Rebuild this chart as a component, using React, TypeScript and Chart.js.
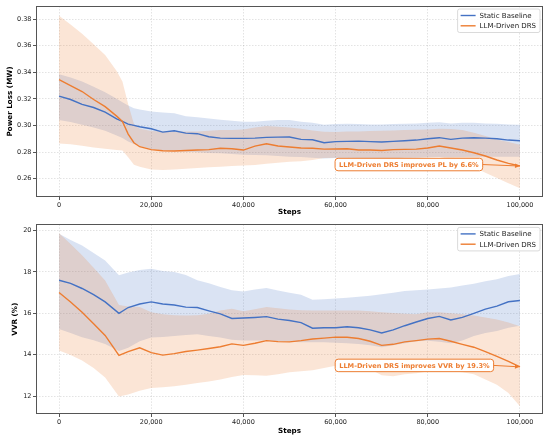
import React, { useEffect, useRef } from "react";
import { Chart, registerables } from "chart.js";

Chart.register(...registerables);

// ---------- data ----------
const BLUE = "#4472C4";
const ORANGE = "#ED7D31";
const BLUE_FILL = "rgba(68,114,196,0.2)";
const ORANGE_FILL = "rgba(237,125,49,0.2)";

const X_TICKS = [0, 20000, 40000, 60000, 80000, 100000];

// Power loss panel
const PL_STEPS = [0, 2500, 5000, 7500, 10000, 12500, 13750, 15000, 16250, 17500, 20000, 22500, 25000, 27500, 30000, 32500, 35000, 37500, 40000, 42500, 45000, 47500, 50000, 52500, 55000, 57500, 60000, 62500, 65000, 67500, 70000, 72500, 75000, 77500, 80000, 82500, 85000, 87500, 90000, 92500, 95000, 97500, 100000];
const PL_STATIC_MEAN = [0.3221, 0.3195, 0.3158, 0.3135, 0.31, 0.305, 0.303, 0.301, 0.3, 0.299, 0.2975, 0.295, 0.296, 0.2942, 0.2938, 0.2915, 0.2905, 0.2903, 0.2903, 0.2905, 0.291, 0.2912, 0.2913, 0.2895, 0.2892, 0.287, 0.2878, 0.288, 0.2882, 0.2878, 0.2875, 0.288, 0.2885, 0.289, 0.29, 0.2908, 0.2895, 0.2905, 0.2908, 0.2905, 0.29, 0.289, 0.2885];
const PL_STATIC_UPPER = [0.3384, 0.336, 0.333, 0.329, 0.325, 0.32, 0.3175, 0.315, 0.313, 0.312, 0.3105, 0.3098, 0.3092, 0.307, 0.3062, 0.3052, 0.3042, 0.3035, 0.3028, 0.3028, 0.3035, 0.304, 0.304, 0.3028, 0.302, 0.3005, 0.301, 0.3012, 0.301, 0.3008, 0.3008, 0.301, 0.3012, 0.3015, 0.302, 0.3024, 0.3015, 0.302, 0.302, 0.3015, 0.3012, 0.3008, 0.3005];
const PL_STATIC_LOWER = [0.304, 0.3025, 0.3005, 0.2985, 0.296, 0.2925, 0.2905, 0.288, 0.286, 0.2845, 0.2822, 0.2812, 0.2808, 0.2803, 0.2798, 0.2793, 0.279, 0.2785, 0.278, 0.2777, 0.2775, 0.277, 0.2765, 0.2762, 0.2758, 0.2752, 0.2755, 0.2756, 0.2755, 0.2754, 0.2752, 0.2754, 0.2757, 0.2758, 0.276, 0.2762, 0.276, 0.2762, 0.2764, 0.2765, 0.2765, 0.2765, 0.2765];
const PL_LLM_MEAN = [0.3344, 0.33, 0.3255, 0.3195, 0.3141, 0.307, 0.303, 0.2935, 0.287, 0.284, 0.2818, 0.281, 0.2808, 0.2812, 0.2815, 0.2818, 0.2828, 0.2825, 0.2815, 0.2845, 0.2862, 0.2845, 0.2838, 0.283, 0.2828, 0.2822, 0.2823, 0.2825, 0.2815, 0.2815, 0.2812, 0.2818, 0.282, 0.2822, 0.283, 0.2845, 0.283, 0.2815, 0.2795, 0.277, 0.274, 0.2715, 0.2695];
const PL_LLM_UPPER = [0.3825, 0.3758, 0.369, 0.361, 0.353, 0.341, 0.333, 0.316, 0.301, 0.2975, 0.2958, 0.2955, 0.2953, 0.2955, 0.2955, 0.296, 0.2965, 0.2965, 0.297, 0.2985, 0.2995, 0.299, 0.2985, 0.2975, 0.2962, 0.2952, 0.295, 0.2955, 0.2955, 0.2958, 0.296, 0.2962, 0.2965, 0.2968, 0.297, 0.2975, 0.2973, 0.2965, 0.2945, 0.292, 0.2895, 0.2875, 0.2855];
const PL_LLM_LOWER = [0.2865, 0.2858, 0.2848, 0.2835, 0.2825, 0.2815, 0.2812, 0.276, 0.2705, 0.269, 0.2668, 0.2665, 0.2668, 0.2675, 0.268, 0.2685, 0.269, 0.2695, 0.2698, 0.2702, 0.2712, 0.272, 0.2727, 0.273, 0.274, 0.2755, 0.2758, 0.2758, 0.2755, 0.2756, 0.2753, 0.2756, 0.2758, 0.2759, 0.2761, 0.2763, 0.2745, 0.272, 0.2685, 0.2645, 0.2605, 0.2565, 0.2527];
const PL_Y_TICKS = [0.26, 0.28, 0.3, 0.32, 0.34, 0.36, 0.38];
const PL_NOTE_TEXT = "LLM-Driven DRS improves PL by 6.6%";
const PL_NOTE_AT = [75900, 0.2706];

// VVR panel
const VVR_STEPS = [0, 2500, 5000, 7500, 10000, 13000, 15000, 17500, 20000, 22500, 25000, 27500, 30000, 32500, 35000, 37500, 40000, 42500, 45000, 47500, 50000, 52500, 55000, 57500, 60000, 62500, 65000, 67500, 70000, 72500, 75000, 77500, 80000, 82500, 85000, 87500, 90000, 92500, 95000, 97500, 100000];
const VVR_STATIC_MEAN = [17.6, 17.45, 17.2, 16.9, 16.55, 16.0, 16.28, 16.45, 16.55, 16.45, 16.4, 16.3, 16.28, 16.12, 15.97, 15.75, 15.77, 15.8, 15.84, 15.72, 15.65, 15.55, 15.28, 15.3, 15.3, 15.35, 15.3, 15.2, 15.05, 15.2, 15.4, 15.58, 15.75, 15.85, 15.68, 15.8, 16.0, 16.2, 16.35, 16.56, 16.62];
const VVR_STATIC_UPPER = [19.85, 19.55, 19.28, 18.92, 18.55, 17.84, 17.97, 18.1, 18.15, 18.05, 18.0, 17.85, 17.6, 17.45, 17.27, 17.12, 17.05, 17.15, 17.22, 17.1, 17.0, 16.9, 16.65, 16.68, 16.72, 16.75, 16.8, 16.85, 16.92, 17.0, 17.08, 17.12, 17.15, 17.2, 17.25, 17.35, 17.43, 17.55, 17.65, 17.8, 17.9];
const VVR_STATIC_LOWER = [15.24, 15.05, 14.84, 14.7, 14.52, 14.18, 14.34, 14.65, 14.83, 14.85, 14.9, 14.95, 14.99, 14.9, 14.83, 14.72, 14.68, 14.68, 14.68, 14.65, 14.62, 14.6, 14.6, 14.6, 14.58, 14.55, 14.52, 14.45, 14.36, 14.45, 14.55, 14.65, 14.67, 14.62, 14.55, 14.68, 14.9, 15.05, 15.15, 15.3, 15.4];
const VVR_LLM_MEAN = [17.01, 16.55, 16.05, 15.5, 14.93, 13.97, 14.15, 14.33, 14.1, 13.98, 14.05, 14.15, 14.22, 14.3, 14.38, 14.52, 14.45, 14.55, 14.68, 14.63, 14.62, 14.68, 14.76, 14.8, 14.85, 14.84, 14.78, 14.65, 14.45, 14.5, 14.62, 14.68, 14.75, 14.78, 14.65, 14.5, 14.36, 14.15, 13.92, 13.68, 13.41];
const VVR_LLM_UPPER = [19.87, 19.35, 18.81, 18.2, 17.59, 16.4, 16.33, 16.3, 16.05, 15.95, 15.9, 15.89, 15.9, 15.98, 16.13, 16.22, 16.1, 16.2, 16.3, 16.25, 16.18, 16.15, 16.13, 16.13, 16.13, 16.13, 16.13, 16.1, 16.05, 16.02, 15.98, 15.95, 16.05, 16.05, 16.0, 15.95, 15.89, 15.8, 15.7, 15.56, 15.37];
const VVR_LLM_LOWER = [14.2, 13.98, 13.72, 13.35, 12.9, 11.98, 12.07, 12.25, 12.39, 12.42, 12.47, 12.55, 12.63, 12.7, 12.8, 12.92, 13.02, 13.0, 12.98, 13.05, 13.15, 13.2, 13.25, 13.35, 13.46, 13.46, 13.45, 13.3, 13.0, 12.95, 13.05, 13.1, 13.18, 13.2, 13.2, 13.15, 13.05, 12.8, 12.55, 12.15, 11.5];
const VVR_Y_TICKS = [12, 14, 16, 18, 20];
const VVR_NOTE_TEXT = "LLM-Driven DRS improves VVR by 19.3%";
const VVR_NOTE_AT = [77100, 13.48];

const SERIES_LABELS = ["Static Baseline", "LLM-Driven DRS"];

// ---------- helpers ----------
const FONT = '"DejaVu Sans", "Liberation Sans", sans-serif';

function roundRect(ctx: CanvasRenderingContext2D, x: number, y: number, w: number, h: number, r: number) {
  ctx.beginPath();
  ctx.moveTo(x + r, y);
  ctx.lineTo(x + w - r, y);
  ctx.quadraticCurveTo(x + w, y, x + w, y + r);
  ctx.lineTo(x + w, y + h - r);
  ctx.quadraticCurveTo(x + w, y + h, x + w - r, y + h);
  ctx.lineTo(x + r, y + h);
  ctx.quadraticCurveTo(x, y + h, x, y + h - r);
  ctx.lineTo(x, y + r);
  ctx.quadraticCurveTo(x, y, x + r, y);
  ctx.closePath();
}

function makeDecor(noteText: string, noteAt: number[], target: number[]) {
  return {
    id: "decor",
    afterDraw(chart: any) {
      const ctx: CanvasRenderingContext2D = chart.ctx;
      const a = chart.chartArea;
      const xs = chart.scales.x;
      const ys = chart.scales.y;
      ctx.save();
      // frame
      ctx.strokeStyle = "#555";
      ctx.lineWidth = 1;
      ctx.strokeRect(Math.round(a.left) + 0.5, Math.round(a.top) + 0.5, Math.round(a.right - a.left) - 1, Math.round(a.bottom - a.top) - 1);

      // annotation
      const cx = xs.getPixelForValue(noteAt[0]);
      const cy = ys.getPixelForValue(noteAt[1]);
      const tx = xs.getPixelForValue(target[0]);
      const ty = ys.getPixelForValue(target[1]);
      ctx.font = `bold 6.6px ${FONT}`;
      const tw = ctx.measureText(noteText).width;
      const bw = tw + 8;
      const bh = 12.5;
      const bx = cx - bw / 2;
      const by = cy - bh / 2;
      // arrow
      const sx = bx + bw;
      const sy = cy;
      const ang = Math.atan2(ty - sy, tx - sx);
      const hl = 5;
      const hw = 2.2;
      ctx.strokeStyle = ORANGE;
      ctx.fillStyle = ORANGE;
      ctx.lineWidth = 1;
      ctx.beginPath();
      ctx.moveTo(sx, sy);
      ctx.lineTo(tx - Math.cos(ang) * hl, ty - Math.sin(ang) * hl);
      ctx.stroke();
      ctx.beginPath();
      ctx.moveTo(tx, ty);
      ctx.lineTo(tx - Math.cos(ang) * hl - Math.sin(ang) * hw, ty - Math.sin(ang) * hl + Math.cos(ang) * hw);
      ctx.lineTo(tx - Math.cos(ang) * hl + Math.sin(ang) * hw, ty - Math.sin(ang) * hl - Math.cos(ang) * hw);
      ctx.closePath();
      ctx.fill();
      // box
      roundRect(ctx, bx, by, bw, bh, 3);
      ctx.fillStyle = "#ffffff";
      ctx.fill();
      ctx.lineWidth = 1;
      ctx.strokeStyle = ORANGE;
      ctx.stroke();
      ctx.fillStyle = ORANGE;
      ctx.textAlign = "center";
      ctx.textBaseline = "middle";
      ctx.fillText(noteText, cx, cy + 0.5);

      // legend
      ctx.font = `7px ${FONT}`;
      const maxW = Math.max(...SERIES_LABELS.map((l) => ctx.measureText(l).width));
      const lw = 22 + maxW + 4;
      const lh = 23.5;
      const lx = a.right - 3 - lw;
      const ly = a.top + 3;
      roundRect(ctx, lx, ly, lw, lh, 2);
      ctx.fillStyle = "rgba(255,255,255,0.85)";
      ctx.fill();
      ctx.strokeStyle = "#d0d0d0";
      ctx.lineWidth = 0.8;
      ctx.stroke();
      const colors = [BLUE, ORANGE];
      SERIES_LABELS.forEach((label, i) => {
        const ry = ly + 6.5 + i * 10.3;
        ctx.strokeStyle = colors[i];
        ctx.lineWidth = 1.4;
        ctx.beginPath();
        ctx.moveTo(lx + 3, ry);
        ctx.lineTo(lx + 18, ry);
        ctx.stroke();
        ctx.fillStyle = "#222";
        ctx.textAlign = "left";
        ctx.textBaseline = "middle";
        ctx.fillText(label, lx + 22, ry + 0.5);
      });
      ctx.restore();
    },
  };
}

interface PanelOpts {
  steps: number[];
  sMean: number[];
  sUp: number[];
  sLo: number[];
  lMean: number[];
  lUp: number[];
  lLo: number[];
  yMin: number;
  yMax: number;
  yTicks: number[];
  yFmt: (v: number) => string;
  yTitle: string;
  yTitlePad: number;
  padTop: number;
  xAxisH: number;
  xTitlePad: number;
  noteText: string;
  noteAt: number[];
}

function buildConfig(o: PanelOpts): any {
  const pts = (arr: number[]) => arr.map((v, i) => ({ x: o.steps[i], y: v }));
  const band = { pointRadius: 0, borderWidth: 0, borderColor: "transparent", tension: 0 };
  const last = o.steps.length - 1;
  return {
    type: "line",
    data: {
      datasets: [
        { label: SERIES_LABELS[1], data: pts(o.lMean), borderColor: ORANGE, borderWidth: 1.4, pointRadius: 0, fill: false },
        { label: SERIES_LABELS[0], data: pts(o.sMean), borderColor: BLUE, borderWidth: 1.4, pointRadius: 0, fill: false },
        { label: "llm upper", data: pts(o.lUp), ...band, fill: "+1", backgroundColor: ORANGE_FILL },
        { label: "llm lower", data: pts(o.lLo), ...band, fill: false },
        { label: "static upper", data: pts(o.sUp), ...band, fill: "+1", backgroundColor: BLUE_FILL },
        { label: "static lower", data: pts(o.sLo), ...band, fill: false },
      ],
    },
    options: {
      animation: false,
      responsive: false,
      events: [],
      layout: { padding: { top: o.padTop, right: 7, left: 0, bottom: 0 } },
      plugins: { legend: { display: false }, tooltip: { enabled: false } },
      scales: {
        x: {
          type: "linear",
          min: -5000,
          max: 105000,
          afterBuildTicks: (s: any) => {
            s.ticks = X_TICKS.map((v) => ({ value: v }));
          },
          afterFit: (s: any) => {
            s.height = o.xAxisH;
          },
          ticks: {
            callback: (v: any) => Number(v).toLocaleString("en-US"),
            maxRotation: 0,
            autoSkip: false,
            font: { size: 6.5, family: FONT },
            color: "#222",
            padding: 1,
          },
          grid: { color: "rgba(0,0,0,0.11)", tickColor: "#555", tickLength: 3, borderDash: [1.5, 1.5], tickBorderDash: [] },
          border: { display: false, dash: [1.5, 1.5] },
          title: { display: true, text: "Steps", color: "#000", font: { size: 7.2, weight: "bold", family: FONT }, padding: { top: 0, bottom: o.xTitlePad } },
        },
        y: {
          type: "linear",
          min: o.yMin,
          max: o.yMax,
          afterBuildTicks: (s: any) => {
            s.ticks = o.yTicks.map((v) => ({ value: v }));
          },
          afterFit: (s: any) => {
            s.width = 36;
          },
          ticks: {
            callback: (v: any) => o.yFmt(Number(v)),
            autoSkip: false,
            font: { size: 6.5, family: FONT },
            color: "#222",
            padding: 1.5,
          },
          grid: { color: "rgba(0,0,0,0.11)", tickColor: "#555", tickLength: 3, borderDash: [1.5, 1.5], tickBorderDash: [] },
          border: { display: false, dash: [1.5, 1.5] },
          title: { display: true, text: o.yTitle, color: "#000", font: { size: 7.2, weight: "bold", family: FONT }, padding: { top: o.yTitlePad, bottom: 0 } },
        },
      },
    },
    plugins: [makeDecor(o.noteText, o.noteAt, [o.steps[last], o.lMean[last]])],
  };
}

export default function App() {
  const topRef = useRef<HTMLCanvasElement>(null);
  const botRef = useRef<HTMLCanvasElement>(null);

  useEffect(() => {
    Chart.defaults.font.family = FONT;
    const c1 = new Chart(
      topRef.current as HTMLCanvasElement,
      buildConfig({
        steps: PL_STEPS,
        sMean: PL_STATIC_MEAN,
        sUp: PL_STATIC_UPPER,
        sLo: PL_STATIC_LOWER,
        lMean: PL_LLM_MEAN,
        lUp: PL_LLM_UPPER,
        lLo: PL_LLM_LOWER,
        yMin: 0.2462,
        yMax: 0.3898,
        yTicks: PL_Y_TICKS,
        yFmt: (v) => v.toFixed(2),
        yTitle: "Power Loss (MW)",
        yTitlePad: 5.7,
        padTop: 6,
        xAxisH: 22,
        xTitlePad: 2.7,
        noteText: PL_NOTE_TEXT,
        noteAt: PL_NOTE_AT,
      })
    );
    const c2 = new Chart(
      botRef.current as HTMLCanvasElement,
      buildConfig({
        steps: VVR_STEPS,
        sMean: VVR_STATIC_MEAN,
        sUp: VVR_STATIC_UPPER,
        sLo: VVR_STATIC_LOWER,
        lMean: VVR_LLM_MEAN,
        lUp: VVR_LLM_UPPER,
        lLo: VVR_LLM_LOWER,
        yMin: 11.13,
        yMax: 20.3,
        yTicks: VVR_Y_TICKS,
        yFmt: (v) => String(Math.round(v)),
        yTitle: "VVR (%)",
        yTitlePad: 11.2,
        padTop: 4.7,
        xAxisH: 25,
        xTitlePad: 3.7,
        noteText: VVR_NOTE_TEXT,
        noteAt: VVR_NOTE_AT,
      })
    );
    return () => {
      c1.destroy();
      c2.destroy();
    };
  }, []);

  return (
    <div style={{ position: "absolute", left: 0, top: 0, width: 550, height: 439, background: "#ffffff" }}>
      <canvas ref={topRef} width={550} height={219} style={{ display: "block", width: 550, height: 219 }} />
      <canvas ref={botRef} width={550} height={220} style={{ display: "block", width: 550, height: 220 }} />
    </div>
  );
}
